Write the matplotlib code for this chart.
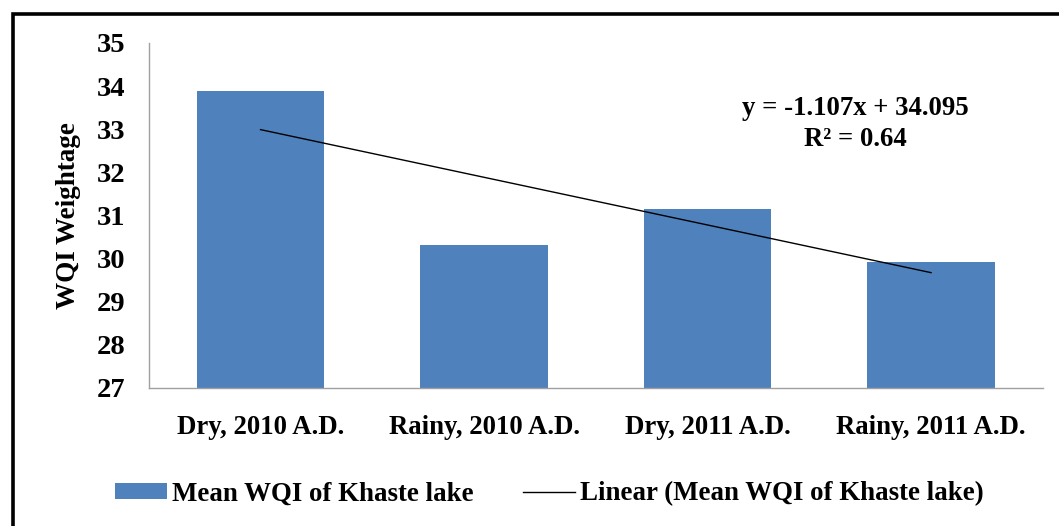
import matplotlib
matplotlib.use("Agg")
import matplotlib.pyplot as plt
from matplotlib.patches import Rectangle
from matplotlib.lines import Line2D
import numpy as np

categories = ["Dry, 2010 A.D.", "Rainy, 2010 A.D.", "Dry, 2011 A.D.", "Rainy, 2011 A.D."]
wqi_values = [33.88, 30.30, 31.14, 29.92]
trend_slope = -1.107
trend_intercept = 34.095
r_squared = 0.64
y_ticks = [27, 28, 29, 30, 31, 32, 33, 34, 35]

bar_color = "#4F81BD"
serif = ["Liberation Serif", "DejaVu Serif"]
plt.rcParams["font.family"] = serif
plt.rcParams["font.weight"] = "bold"

fig = plt.figure(figsize=(10.59, 5.26), dpi=100)
fig.patch.set_facecolor("white")

# outer chart frame (runs past the right and bottom edges)
fig.add_artist(Rectangle((13 / 1059, -0.05), 1.2, 1 - 14 / 526 + 0.05,
                         transform=fig.transFigure, fill=False,
                         edgecolor="black", linewidth=2.6))

ax = fig.add_axes([0.1405, 0.2633, 0.8442, 0.655])
x = np.arange(1, len(categories) + 1)
ax.bar(x, wqi_values, width=0.57, color=bar_color, zorder=2)

trend = trend_slope * x + trend_intercept
ax.plot(x, trend, color="black", linewidth=1.0, zorder=3)

ax.set_xlim(0.5, len(categories) + 0.5)
ax.set_ylim(27, 35)
ax.set_yticks(y_ticks)
ax.set_yticklabels([str(t) for t in y_ticks], fontsize=20.5, fontweight="bold")
ax.set_xticks(x)
ax.set_xticklabels(categories, fontsize=19.3, fontweight="bold")
ax.tick_params(axis="both", length=0)
ax.tick_params(axis="y", pad=17)
ax.tick_params(axis="x", pad=20)
for side in ("top", "right"):
    ax.spines[side].set_visible(False)
for side in ("left", "bottom"):
    ax.spines[side].set_color("#A0A0A0")
    ax.spines[side].set_linewidth(1.0)

ax.set_ylabel("WQI Weightage", fontsize=19.5, fontweight="bold", labelpad=11)

eq_text = f"y = {trend_slope:.3f}x + {trend_intercept:.3f}\nR² = {r_squared:.2f}"
fig.text(855.5 / 1059, 1 - 124 / 526, eq_text, ha="center", va="center",
         fontsize=19.3, fontweight="bold", linespacing=1.3)

# legend
handles = [Rectangle((0, 0), 1, 1, facecolor=bar_color, edgecolor="none"),
           Line2D([0], [0], color="black", linewidth=1.0)]
labels = ["Mean WQI of Khaste lake", "Linear (Mean WQI of Khaste lake)"]
fig.legend(handles, labels, loc="center", bbox_to_anchor=(549 / 1059, 1 - 494 / 526),
           ncol=2, frameon=False, prop={"family": serif, "size": 19.4, "weight": "bold"},
           handlelength=1.93, handleheight=0.57, handletextpad=0.19, columnspacing=1.82,
           borderpad=0, borderaxespad=0)

fig.savefig("out.png", dpi=100, facecolor="white")
